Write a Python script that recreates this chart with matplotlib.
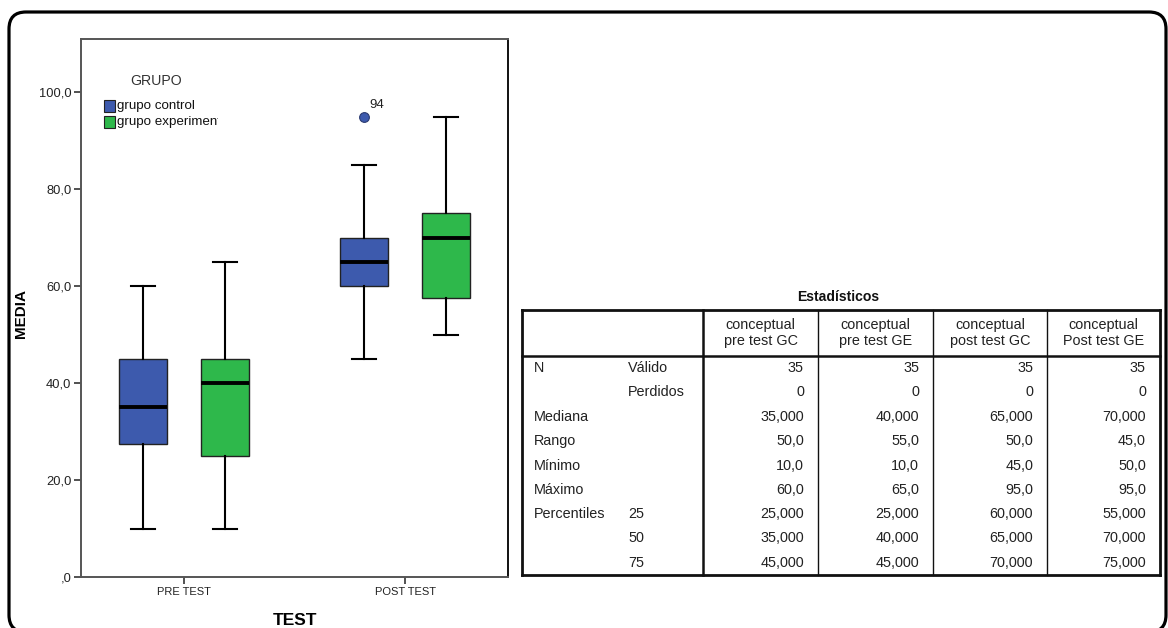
import matplotlib
matplotlib.use("Agg")
import matplotlib.pyplot as plt
from matplotlib.patches import FancyBboxPatch, Rectangle
from matplotlib.transforms import Bbox, IdentityTransform

# ---------------- data ----------------
categories = ["PRE TEST", "POST TEST"]
groups = ["grupo control", "grupo experimental"]
group_colors = ["#3d5aad", "#2eb84b"]

# boxplot stats per group, per category (PRE, POST)
ctrl_whislo = [10, 45]
ctrl_q1 = [27.5, 60]
ctrl_med = [35, 65]
ctrl_q3 = [45, 70]
ctrl_whishi = [60, 85]
ctrl_fliers = [[], [95]]
ctrl_flier_labels = [[], ["94"]]

exp_whislo = [10, 50]
exp_q1 = [25, 57.5]
exp_med = [40, 70]
exp_q3 = [45, 75]
exp_whishi = [65, 95]
exp_fliers = [[], []]

yticks = [0, 20, 40, 60, 80, 100]
ytick_labels = [",0", "20,0", "40,0", "60,0", "80,0", "100,0"]

table_title = "Estadísticos"
col_headers = ["conceptual\npre test GC", "conceptual\npre test GE",
               "conceptual\npost test GC", "conceptual\nPost test GE"]
row_label1 = ["N", "", "Mediana", "Rango", "Mínimo", "Máximo", "Percentiles", "", ""]
row_label2 = ["Válido", "Perdidos", "", "", "", "", "25", "50", "75"]
col_pre_gc = ["35", "0", "35,000", "50,0", "10,0", "60,0", "25,000", "35,000", "45,000"]
col_pre_ge = ["35", "0", "40,000", "55,0", "10,0", "65,0", "25,000", "40,000", "45,000"]
col_post_gc = ["35", "0", "65,000", "50,0", "45,0", "95,0", "60,000", "65,000", "70,000"]
col_post_ge = ["35", "0", "70,000", "45,0", "50,0", "95,0", "55,000", "70,000", "75,000"]

# ---------------- figure ----------------
W, H = 1168, 628
plt.rcParams['font.family'] = ['Liberation Sans', 'DejaVu Sans']
fig = plt.figure(figsize=(W / 100, H / 100), dpi=100)
fig.patch.set_facecolor("white")


def fx(x):
    return x / W


def fy(y):
    return 1 - y / H


# rounded outer border (pixel coordinates, origin bottom-left)
border = FancyBboxPatch((9, -4), 1166 - 9, (H - 12) + 4,
                        boxstyle="round,pad=0,rounding_size=17",
                        transform=IdentityTransform(), fill=False,
                        edgecolor="black", linewidth=2.3, clip_on=False)
fig.patches.append(border)

# ---------------- boxplot axes ----------------
ax = fig.add_axes([fx(81), fy(577), fx(508) - fx(81), fy(39) - fy(577)])
pos = list(range(len(categories)))
offset = 0.185
width = 0.217


def make_stats(lo, q1, med, q3, hi, fl):
    return [dict(whislo=lo[i], q1=q1[i], med=med[i], q3=q3[i], whishi=hi[i], fliers=fl[i])
            for i in range(len(lo))]


for stats, sign, color in [
    (make_stats(ctrl_whislo, ctrl_q1, ctrl_med, ctrl_q3, ctrl_whishi, ctrl_fliers), -1, group_colors[0]),
    (make_stats(exp_whislo, exp_q1, exp_med, exp_q3, exp_whishi, exp_fliers), 1, group_colors[1]),
]:
    ax.bxp(stats, positions=[p + sign * offset for p in pos], widths=width,
           patch_artist=True, showfliers=True, manage_ticks=False,
           boxprops=dict(facecolor=color, edgecolor="#222222", linewidth=1.0),
           medianprops=dict(color="black", linewidth=2.8),
           whiskerprops=dict(color="black", linewidth=1.5),
           capprops=dict(color="black", linewidth=1.5),
           capwidths=0.108,
           flierprops=dict(marker="o", markersize=7, markerfacecolor=color,
                           markeredgecolor="#2a3a70", markeredgewidth=0.8))

for i, labs in enumerate(ctrl_flier_labels):
    for v, lab in zip(ctrl_fliers[i], labs):
        ax.annotate(lab, (pos[i] - offset, v), xytext=(4, 6), textcoords="offset points",
                    fontsize=9.5, color="#222222")

ax.set_xlim(-0.465, 1.465)
ax.set_ylim(0, 111)
ax.set_xticks(pos)
ax.set_xticklabels(categories, fontsize=8)
ax.set_yticks(yticks)
ax.set_yticklabels(ytick_labels, fontsize=9.3)
ax.tick_params(axis="both", direction="out", length=5, width=1.2, color="#333333",
               labelcolor="#222222", pad=2)
for s in ax.spines.values():
    s.set_color("#555555")
    s.set_linewidth(1.4)
ax.spines["right"].set_color("#111111")

ax.set_xlabel("TEST", fontsize=12.5, fontweight="bold", labelpad=12)
ax.set_ylabel("MEDIA", fontsize=11, fontweight="bold")
ax.yaxis.set_label_coords(-0.124, 0.49)

# legend (drawn manually as text + squares)
ax_tr = fig.transFigure
fig.text(fx(156), fy(81), "GRUPO", fontsize=10.2, color="#333333", ha="center", va="center")
for k, (g, c) in enumerate(zip(groups, group_colors)):
    yk = 106 + 16 * k
    fig.patches.append(Rectangle((fx(104), fy(yk + 6)), fx(11), fy(yk - 6) - fy(yk + 6),
                                 transform=ax_tr, facecolor=c, edgecolor="#222222", linewidth=0.8))
    t = fig.text(fx(117), fy(yk), g, fontsize=9.6, color="#111111", ha="left", va="center")
    t.set_clip_box(Bbox.from_extents(0, 0, 218, H))
    t.set_clip_on(True)

# ---------------- table ----------------
fig.text(fx(838), fy(297), table_title, fontsize=10.1, fontweight="bold",
         ha="center", va="center", color="#111111")

x_edges = [522, 703, 818, 933, 1047, 1160]
y_top, y_head, y_bot = 310, 356, 575
nrows = len(row_label1)
row_h = (y_bot - y_head) / nrows


def hline(y, x0, x1, lw):
    fig.add_artist(plt.Line2D([fx(x0), fx(x1)], [fy(y), fy(y)], transform=ax_tr,
                              color="#111111", linewidth=lw))


def vline(x, y0, y1, lw):
    fig.add_artist(plt.Line2D([fx(x), fx(x)], [fy(y0), fy(y1)], transform=ax_tr,
                              color="#111111", linewidth=lw))


hline(y_top, x_edges[0], x_edges[-1], 2.0)
hline(y_bot, x_edges[0], x_edges[-1], 2.0)
hline(y_head, x_edges[0], x_edges[-1], 1.8)
vline(x_edges[0], y_top, y_bot, 2.0)
vline(x_edges[-1], y_top, y_bot, 2.0)
vline(x_edges[1], y_top, y_bot, 1.8)
for xe in x_edges[2:-1]:
    vline(xe, y_top, y_bot, 1.0)

tfs = 10.4
for j, h in enumerate(col_headers):
    xc = (x_edges[j + 1] + x_edges[j + 2]) / 2
    fig.text(fx(xc), fy((y_top + y_head) / 2), h, fontsize=tfs, ha="center", va="center",
             color="#222222", linespacing=1.1)

cols = [col_pre_gc, col_pre_ge, col_post_gc, col_post_ge]
for i in range(nrows):
    yc = y_head + row_h * (i + 0.5)
    if row_label1[i]:
        fig.text(fx(534), fy(yc), row_label1[i], fontsize=tfs, ha="left", va="center", color="#222222")
    if row_label2[i]:
        fig.text(fx(628), fy(yc), row_label2[i], fontsize=tfs, ha="left", va="center", color="#222222")
    for j, col in enumerate(cols):
        fig.text(fx(x_edges[j + 2] - 14), fy(yc), col[i], fontsize=tfs, ha="right", va="center",
                 color="#222222")

fig.savefig("out.png", dpi=100, facecolor="white")
